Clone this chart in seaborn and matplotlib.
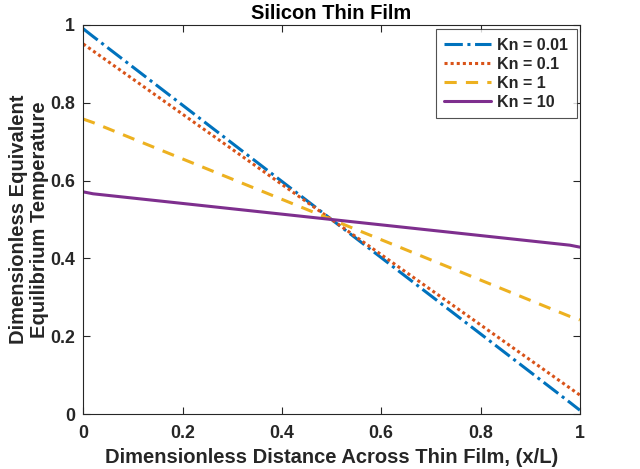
import matplotlib
matplotlib.use("Agg")
import matplotlib.pyplot as plt
import seaborn as sns
import pandas as pd

# Data
x_pos = [0.0, 0.02, 0.5, 0.98, 1.0]
kn_001 = [0.990, 0.970, 0.500, 0.030, 0.010]
kn_01 = [0.951, 0.933, 0.500, 0.067, 0.049]
kn_1 = [0.758, 0.749, 0.500, 0.251, 0.242]
kn_10 = [0.571, 0.566, 0.500, 0.434, 0.429]
labels = ["Kn = 0.01", "Kn = 0.1", "Kn = 1", "Kn = 10"]
series = [kn_001, kn_01, kn_1, kn_10]

colors = ["#0072BD", "#D95319", "#EDB120", "#7E2F8E"]
styles = [(0, (6, 1.5, 1, 1.5)), (0, (1, 1)), (0, (4, 3)), "-"]

sns.set_theme(style="white")
plt.rcParams['font.family'] = ['Liberation Sans', 'DejaVu Sans']
plt.rcParams['font.weight'] = 'bold'

fig = plt.figure(figsize=(6.4, 4.69), dpi=100)
ax = fig.add_axes([0.13, 0.117, 0.776, 0.830])

for lab, vals, c, ls in zip(labels, series, colors, styles):
    df = pd.DataFrame({"x": x_pos, "y": vals})
    sns.lineplot(data=df, x="x", y="y", ax=ax, color=c, linestyle=ls,
                 linewidth=2.2, label=lab, sort=False, estimator=None)

ax.set_xlim(0, 1)
ax.set_ylim(0, 1)
ax.set_xticks([0, 0.2, 0.4, 0.6, 0.8, 1])
ax.set_xticklabels(["0", "0.2", "0.4", "0.6", "0.8", "1"])
ax.set_yticks([0, 0.2, 0.4, 0.6, 0.8, 1])
ax.set_yticklabels(["0", "0.2", "0.4", "0.6", "0.8", "1"])
ax.tick_params(direction="in", length=5, width=0.8, top=True, right=True,
               bottom=True, left=True, labelsize=12.8, colors="#262626")
ax.tick_params(axis="x", pad=7.5)
ax.tick_params(axis="y", pad=6)
for lbl in ax.get_xticklabels() + ax.get_yticklabels():
    lbl.set_fontweight("bold")
for sp in ax.spines.values():
    sp.set_color("#262626")
    sp.set_linewidth(0.8)

ax.set_xlabel("Dimensionless Distance Across Thin Film, (x/L)",
              fontsize=14.5, fontweight="bold", color="#262626", labelpad=5)
ax.set_ylabel("Dimensionless Equivalent\nEquilibrium Temperature",
              fontsize=14.5, fontweight="bold", color="#262626", labelpad=1,
              linespacing=1.12)
ax.set_title("Silicon Thin Film", fontsize=14.5, fontweight="bold",
             color="black", pad=4)

leg = ax.legend(loc="upper right", bbox_to_anchor=(0.994, 0.99),
                fontsize=11.5, frameon=True, fancybox=False,
                handlelength=2.9, borderpad=0.55, labelspacing=0.25,
                handletextpad=0.4, borderaxespad=0.0)
leg.get_frame().set_edgecolor("#262626")
leg.get_frame().set_linewidth(0.8)
for t in leg.get_texts():
    t.set_fontweight("bold")

fig.savefig("out.png", dpi=100, facecolor="white")
